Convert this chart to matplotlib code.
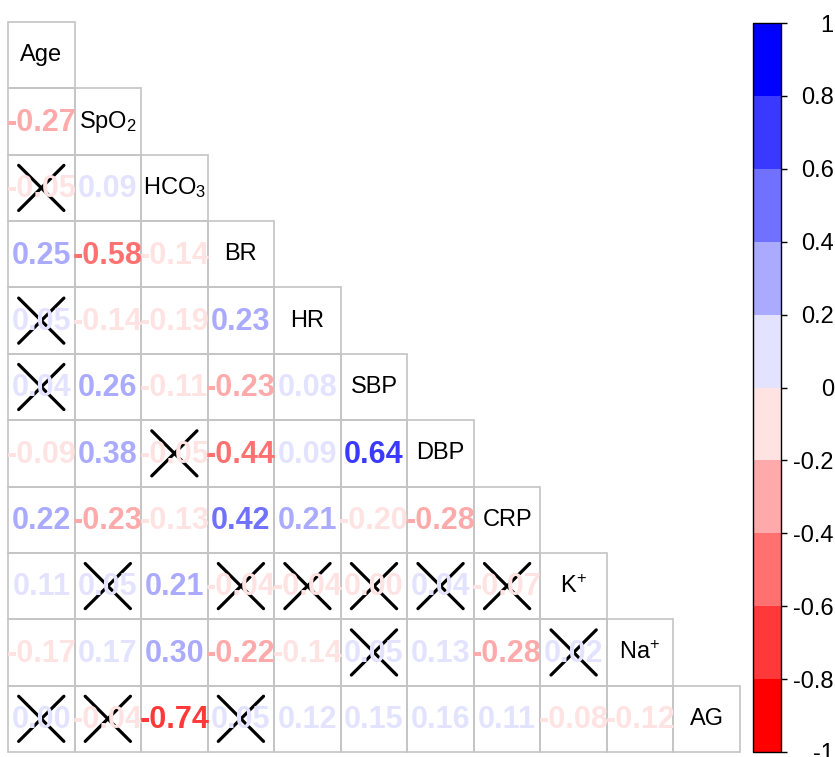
import numpy as np
import matplotlib.pyplot as plt
from matplotlib.colors import ListedColormap, BoundaryNorm
from matplotlib.patches import Rectangle
import matplotlib.cm as cm

plt.rcParams['font.family'] = ['Liberation Sans', 'DejaVu Sans']
plt.rcParams['mathtext.fontset'] = 'custom'
plt.rcParams['mathtext.rm'] = 'Liberation Sans'
plt.rcParams['mathtext.it'] = 'Liberation Sans'
plt.rcParams['mathtext.bf'] = 'Liberation Sans:bold'
plt.rcParams['mathtext.default'] = 'regular'

labels = ['Age', 'SpO$_2$', 'HCO$_3$', 'BR', 'HR', 'SBP', 'DBP', 'CRP',
          r'K$^{\!+}$', r'Na$^{\!+}$', 'AG']

# lower triangle of the correlation matrix, one list per row
corr_rows = [
    [],
    [-0.27],
    [-0.05, 0.09],
    [0.25, -0.58, -0.14],
    [0.05, -0.14, -0.19, 0.23],
    [0.04, 0.26, -0.11, -0.23, 0.08],
    [-0.09, 0.38, -0.05, -0.44, 0.09, 0.64],
    [0.22, -0.23, -0.13, 0.42, 0.21, -0.20, -0.28],
    [0.11, 0.05, 0.21, -0.04, -0.04, -0.001, 0.04, -0.07],
    [-0.17, 0.17, 0.30, -0.22, -0.14, 0.05, 0.13, -0.28, 0.02],
    [0.001, -0.04, -0.74, 0.05, 0.12, 0.15, 0.16, 0.11, -0.08, -0.12],
]

# non-significant pairs (row, col), crossed out
insig = [(2, 0), (4, 0), (5, 0), (6, 2),
         (8, 1), (8, 3), (8, 4), (8, 5), (8, 6), (8, 7),
         (9, 5), (9, 8),
         (10, 0), (10, 1), (10, 3)]

palette = ['#ff0000', '#ff3939', '#ff7171', '#ffaaaa', '#ffe3e3',
           '#e3e3ff', '#aaaaff', '#7171ff', '#3939ff', '#0000ff']
cbar_ticks = [-1, -0.8, -0.6, -0.4, -0.2, 0, 0.2, 0.4, 0.6, 0.8, 1]
cbar_labels = ['-1', '-0.8', '-0.6', '-0.4', '-0.2', '0',
               '0.2', '0.4', '0.6', '0.8', '1']

W, H = 835, 757
fig = plt.figure(figsize=(W / 100, H / 100), dpi=100)

n = len(labels)
ax = fig.add_axes([8 / W, 5 / H, 732 / W, 730 / H])
ax.set_xlim(0, n)
ax.set_ylim(n, 0)
ax.axis('off')


def bin_color(v):
    k = int(np.floor(np.round((v + 1) / 0.2, 6)))
    return palette[min(max(k, 0), 9)]


def fmt(v):
    s = f'{v:.2f}'
    return '0.00' if s == '-0.00' else s


# grid cells
for i in range(n):
    for j in range(i + 1):
        ax.add_patch(Rectangle((j, i), 1, 1, fill=False, ec='#c4c4c4',
                               lw=1.2, clip_on=False))

# coefficients
for i, row in enumerate(corr_rows):
    for j, v in enumerate(row):
        ax.text(j + 0.5, i + 0.52, fmt(v), ha='center', va='center',
                color=bin_color(v), fontsize=22, fontweight='bold')

# variable names on the diagonal
for i, lab in enumerate(labels):
    ax.text(i + 0.5, i + 0.5, lab, ha='center', va='center',
            fontsize=17, color='black')

# crosses
d = 0.34
for i, j in insig:
    cx, cy = j + 0.5, i + 0.5
    ax.plot([cx - d, cx + d], [cy - d, cy + d], color='black', lw=2.3,
            solid_capstyle='round')
    ax.plot([cx - d, cx + d], [cy + d, cy - d], color='black', lw=2.3,
            solid_capstyle='round')

# colour legend
cax = fig.add_axes([753 / W, 5 / H, 28 / W, 729 / H])
cmap = ListedColormap(palette)
norm = BoundaryNorm(np.linspace(-1, 1, 11), cmap.N)
cb = fig.colorbar(cm.ScalarMappable(norm=norm, cmap=cmap), cax=cax,
                  ticks=cbar_ticks)
cb.outline.set_linewidth(1.0)
cax.set_yticklabels(cbar_labels)
cax.tick_params(length=4, width=1, pad=34, labelsize=17)
for t in cax.get_yticklabels():
    t.set_horizontalalignment('right')

fig.savefig('out.png', dpi=100)
